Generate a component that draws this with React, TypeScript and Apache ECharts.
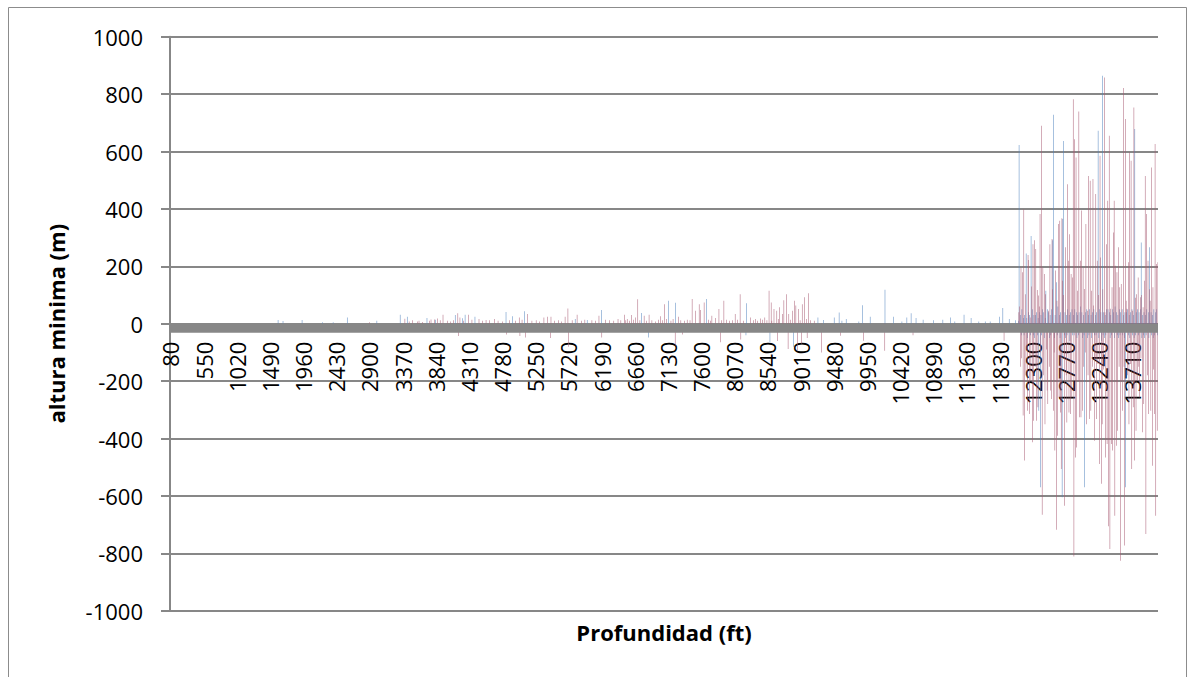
import React, { useEffect, useRef } from "react";
import * as echarts from "echarts";

// ---- categories (depth in ft) ----
const START_DEPTH = 80;
const DEPTH_STEP = 10;
const CATEGORY_COUNT = 1400; // 80 .. 14070
const categories: string[] = Array.from({ length: CATEGORY_COUNT }, (_, i) => String(START_DEPTH + i * DEPTH_STEP));
const LABEL_EVERY = 47; // 80, 550, 1020, ...

// ---- axis ----
const Y_MIN = -1000;
const Y_MAX = 1000;
const Y_STEP = 200;
const X_TITLE = "Profundidad (ft)";
const Y_TITLE = "altura minima (m)";

// ---- series 1 (blue): isolated readings [depth, value] ----
const bluePeaks: [number, number][] = [
  [1610, 13], [1680, 9], [1950, 13], [2240, 5], [2390, 5], [2590, 22], [3010, 10], [3340, 31], [3440, 24],
  [3720, 20], [3840, 14], [4120, 30], [4220, 19], [4260, 31], [4400, 24], [4840, 41], [4930, 26], [5100, 43],
  [5820, 16], [5990, 13], [6190, 48], [6760, 37], [6860, -48], [7140, 80], [7240, 73], [7680, 86], [8240, -40],
  [8250, 71], [8580, -65], [8910, -80], [9260, 22], [9340, 13], [9490, 22], [9560, 39], [9600, 10], [9660, 16],
  [9840, 8], [9890, 64], [10000, 24], [10210, 118], [10330, 24], [10450, 8], [10520, 22], [10580, 36], [10650, 20],
  [10750, 14], [10900, 12], [11030, 14], [11140, 22], [11200, 8], [11330, 31], [11430, 20], [11540, 8], [11630, 8],
  [11700, 8], [11830, 24], [11880, 55], [11970, 16], [12060, 12],
];

// ---- series 2 (red): isolated readings [depth, value] ----
const redPeaks: [number, number][] = [
  [2900, 5], [3400, 17], [3460, 8], [3510, 12], [3580, 8], [3600, 10], [3650, 6], [3750, 10], [3770, 15],
  [3820, 15], [3860, 18], [3900, 12], [3940, 31], [4000, 10], [4050, 8], [4090, 12], [4150, 36], [4160, -43],
  [4180, 22], [4230, 10], [4300, 31], [4350, 14], [4450, 16], [4500, 10], [4550, 13], [4600, 12], [4670, 16],
  [4720, 10], [4780, 8], [4840, -38], [4880, 12], [4970, 10], [5020, 22], [5030, -43], [5060, 14], [5110, -48],
  [5140, 34], [5200, 10], [5260, 12], [5310, 8], [5370, 22], [5420, 24], [5460, -50], [5470, 24], [5520, 10],
  [5580, 12], [5620, 8], [5670, 24], [5710, 53], [5720, -80], [5770, 12], [5840, 31], [5900, 10], [5950, 14],
  [6050, 12], [6100, 10], [6150, 28], [6190, -48], [6240, 14], [6300, 12], [6360, 10], [6420, 16], [6460, 12],
  [6510, 31], [6530, 12], [6550, 16], [6580, 10], [6610, 30], [6640, 14], [6670, 22], [6700, 85], [6730, 12],
  [6790, 28], [6820, 10], [6860, 31], [6900, 12], [6950, 8], [6990, 14], [7020, 26], [7050, 12], [7080, 68],
  [7110, 16], [7170, 10], [7200, 16], [7230, -77], [7280, 24], [7310, 12], [7330, -38], [7360, 10], [7400, 14],
  [7440, 12], [7470, 86], [7520, 45], [7570, 68], [7590, 48], [7640, 74], [7700, 14], [7730, 10], [7750, 28],
  [7800, 20], [7850, 51], [7870, -65], [7890, 12], [7920, 80], [7960, 14], [8000, 10], [8040, 12], [8080, 34],
  [8110, 14], [8150, 103], [8160, -55], [8200, 10], [8300, 22], [8340, 12], [8370, 16], [8400, 10], [8440, 18],
  [8470, 14], [8500, 22], [8530, 12], [8560, 115], [8590, 74], [8600, 10], [8630, 51], [8670, 45], [8680, -60],
  [8690, 16], [8710, 57], [8750, 34], [8770, 82], [8810, 103], [8830, -88], [8840, 34], [8860, 14], [8890, 45],
  [8920, 80], [8940, 63], [8960, -94], [8980, 51], [9000, 12], [9020, -70], [9030, 68], [9060, 92], [9090, 16],
  [9100, -50], [9120, 106], [9150, 12], [9200, 10], [9300, -100], [9570, -42], [9900, -59], [10200, -94],
  [10600, -40], [11890, -59],
];

// ---- dense section, one value per category from 12100 ft ----
const DENSE_START = 12100;
const blueDense: number[] = [
  10, 623, -20, 30, -40, 50, -30, 20, -40, 30,
  -30, 245, 20, -50, 40, -20, 30, -40, 306, -30,
  50, -40, 30, -50, 30, -30, 40, -40, 20, -303,
  40, -570, 30, -40, 50, -30, 40, -50, 20, 115,
  -30, 50, -20, 40, -50, 30, -40, 50, 291, -30,
  728, -50, 30, -30, 144, -40, 60, -30, 30, -50,
  40, -30, -605, 365, 637, -40, 40, -50, 30, -40,
  50, -30, 30, -60, 40, -30, 50, -40, 30, -40,
  50, -30, 40, -50, 30, -40, 40, -30, 60, -30,
  40, -50, 30, -40, -570, 40, -30, 50, -50, 30,
  -40, 50, -30, 30, -50, 40, -30, 50, -40, 30,
  -40, 40, -30, 672, -50, 50, -30, 40, -60, 864,
  -40, 40, -50, 30, -40, 50, -30, 50, -30, 40,
  -50, 30, -40, 50, -30, 40, -50, 60, -30, 40,
  -40, 30, -50, 50, -40, 40, -30, 50, -40, 30,
  -50, 40, -570, 40, -30, 50, -40, 30, -50, 40,
  -30, 50, -40, 30, -50, 678, -40, 40, -30, 50,
  -40, 40, -30, 50, 283, -50, 30, -40, 40, -50,
  30, -40, 50, -30, 40, -50, 266, -30, 40, -40,
  30, -50, 50, -40, 40, -30, 50, -40,
];
const redDense: number[] = [
  40, 60, -150, 196, -120, 179, -320, 399, -477, 103,
  -180, -90, -303, 239, 222, -315, 22, -200, 130, -413,
  277, -338, 291, -150, 260, -338, 117, -291, 98, 60,
  382, -100, 690, -666, 196, -180, 173, -350, 103, -90,
  -233, -280, 45, -150, 277, -233, -262, 295, 120, -303,
  -100, -442, 185, -718, 80, -390, 347, -257, 359, -309,
  -506, 367, 150, 100, -120, -634, 266, -180, -344, 486,
  219, -309, 312, -315, 173, -257, 161, 782, -811, 643,
  -466, 579, -431, 115, -200, 739, -326, 219, -326, 394,
  -303, 196, -150, 121, -100, 347, -350, 45, -180, 515,
  -332, 498, -303, 115, -150, 504, 63, -408, -120, 452,
  -332, 219, -140, 100, -489, 585, 231, -558, -350, 120,
  -160, 858, 40, -466, 277, -419, 428, -706, 655, -785,
  52, -419, 127, -442, 318, 428, -669, 202, -425, 179,
  -373, 266, -150, 127, -826, 138, -200, -303, 821, -150,
  -773, 713, 80, 52, -180, 214, -350, 597, -140, 568,
  -506, 45, -291, 753, -477, 90, -373, 103, -200, 161,
  -150, -257, 92, -120, 100, -378, 57, -280, 150, 515,
  -733, 382, -180, 219, -315, 120, 80, -303, 544, -495,
  127, -160, -315, 626, -669, 208, -373, 214,
];

function buildSeries(peaks: [number, number][], dense: number[]): number[] {
  const out: number[] = new Array(CATEGORY_COUNT).fill(0);
  for (const [d, v] of peaks) {
    const i = Math.round((d - START_DEPTH) / DEPTH_STEP);
    if (i >= 0 && i < CATEGORY_COUNT) out[i] = v;
  }
  const s = Math.round((DENSE_START - START_DEPTH) / DEPTH_STEP);
  dense.forEach((v, k) => {
    if (s + k < CATEGORY_COUNT) out[s + k] = v;
  });
  return out;
}

const blueValues = buildSeries(bluePeaks, blueDense);
const redValues = buildSeries(redPeaks, redDense);

const FONT = '"Open Sans", "Noto Sans", sans-serif';
const GRAY = "#878787";
const W = 1188;
const H = 677;
const GRID_LEFT = 170;
const GRID_RIGHT = 30;
const GRID_TOP = 36.7;
const GRID_BOTTOM = 66.3;
const PLOT_H = H - GRID_TOP - GRID_BOTTOM;
// the category axis sits on value 0 of the value axis
const X_AXIS_OFFSET = -PLOT_H * ((0 - Y_MIN) / (Y_MAX - Y_MIN));

export default function App() {
  const ref = useRef<HTMLDivElement>(null);
  useEffect(() => {
    if (!ref.current) return;
    const chart = echarts.init(ref.current, null, { renderer: "svg" });
    chart.setOption({
      animation: false,
      textStyle: { fontFamily: FONT },
      grid: {
        left: GRID_LEFT,
        right: GRID_RIGHT,
        top: GRID_TOP,
        bottom: GRID_BOTTOM,
        containLabel: false,
        outerBoundsMode: "none",
      },
      xAxis: {
        type: "category",
        data: categories,
        boundaryGap: true,
        position: "bottom",
        offset: X_AXIS_OFFSET,
        axisLine: { show: false, onZero: false },
        axisTick: { show: false },
        axisLabel: {
          interval: LABEL_EVERY - 1,
          rotate: 90,
          margin: 18,
          fontSize: 22,
          fontFamily: FONT,
          color: "#000",
        },
        splitLine: { show: false },
      },
      yAxis: {
        type: "value",
        min: Y_MIN,
        max: Y_MAX,
        interval: Y_STEP,
        axisLine: { show: true, lineStyle: { color: GRAY, width: 2 } },
        axisTick: { show: true, length: 9, lineStyle: { color: GRAY, width: 2 } },
        axisLabel: {
          margin: 27,
          fontSize: 22,
          fontFamily: FONT,
          color: "#000",
          formatter: (v: number) => String(v),
        },
        splitLine: { show: true, lineStyle: { color: GRAY, width: 2 } },
      },
      series: [
        {
          type: "bar",
          name: "Serie1",
          data: blueValues,
          barWidth: 0.5,
          barMinWidth: 0.1,
          barGap: "0%",
          large: false,
          silent: true,
          itemStyle: { color: "#4F81BD" },
        },
        {
          type: "bar",
          name: "Serie2",
          data: redValues,
          barWidth: 0.5,
          barMinWidth: 0.1,
          large: false,
          silent: true,
          itemStyle: { color: "#A85A72" },
        },
      ],
    });
    const y0 = chart.convertToPixel({ yAxisIndex: 0 }, 0) as number;
    chart.setOption({
      graphic: [
        {
          id: "border",
          type: "rect",
          shape: { x: 8.5, y: 7.5, width: 1178, height: 720 },
          style: { fill: "none", stroke: "#8c8c8c", lineWidth: 1 },
          z: 60,
          silent: true,
        },
        {
          id: "band",
          type: "rect",
          shape: { x: GRID_LEFT, y: y0, width: W - GRID_LEFT - GRID_RIGHT, height: 9 },
          style: { fill: GRAY },
          z: 50,
          silent: true,
        },
        {
          id: "ytitle",
          type: "text",
          x: 56,
          y: GRID_TOP + PLOT_H / 2,
          rotation: Math.PI / 2,
          style: {
            text: Y_TITLE,
            fontSize: 22,
            fontWeight: "bold",
            fontFamily: FONT,
            fill: "#000",
            align: "center",
            verticalAlign: "middle",
          },
          z: 60,
        },
        {
          id: "xtitle",
          type: "text",
          x: GRID_LEFT + (W - GRID_LEFT - GRID_RIGHT) / 2,
          y: 632,
          style: {
            text: X_TITLE,
            fontSize: 22,
            fontWeight: "bold",
            fontFamily: FONT,
            fill: "#000",
            align: "center",
            verticalAlign: "middle",
          },
          z: 60,
        },
      ],
    });
    return () => chart.dispose();
  }, []);
  return (
    <div
      ref={ref}
      style={{ position: "fixed", left: 0, top: 0, width: W, height: H, background: "#fff" }}
    />
  );
}
